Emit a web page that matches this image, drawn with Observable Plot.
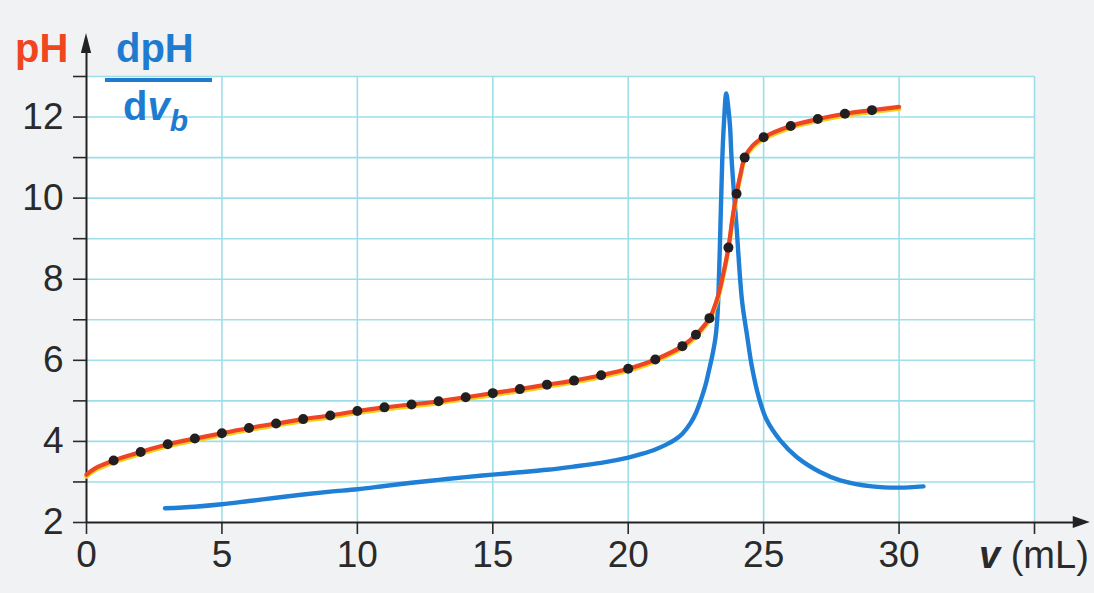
<!DOCTYPE html>
<html>
<head>
<meta charset="utf-8">
<script src="https://cdn.jsdelivr.net/npm/d3@7"></script>
<script src="https://cdn.jsdelivr.net/npm/@observablehq/plot@0.6"></script>
<style>
  html, body { margin: 0; padding: 0; background: #f0f2f4; }
  #wrap { position: relative; width: 1094px; height: 593px; overflow: hidden; font-family: "Liberation Sans", Arial, sans-serif; }
  #wrap svg { position: absolute; left: 0; top: 0; }
  .lbl { position: absolute; white-space: nowrap; line-height: 40px; font-size: 40px; }
</style>
</head>
<body>
<div id="wrap">
  <div class="lbl" style="left:15px; top:28px; color:#f0461f; font-weight:bold;">pH</div>
  <div class="lbl" style="left:116px; top:28px; color:#1f7bd0; font-weight:bold;">dpH</div>
  <div style="position:absolute; left:105px; top:78px; width:107px; height:4px; background:#1f7bd0;"></div>
  <div class="lbl" style="left:123px; top:86px; color:#1f7bd0; font-weight:bold;">d<i>v</i><sub style="font-size:30px; line-height:0; font-style:italic; position:relative; top:2px;">b</sub></div>
  <div class="lbl" style="left:979px; top:535px; color:#2a2a2a; font-size:38px;"><b><i>v</i></b> (mL)</div>
</div>
<script>
// Titration: pH measured points (black dots)
const dotVolume = [1,2,3,4,5,6,7,8,9,10,11,12,13,14,15,16,17,18,19,20,21,22,22.5,23,23.7,24,24.3,25,26,27,28,29];
const dotPH     = [3.53,3.74,3.93,4.07,4.20,4.33,4.44,4.55,4.64,4.75,4.84,4.91,4.99,5.09,5.19,5.29,5.40,5.50,5.63,5.79,6.02,6.35,6.63,7.04,8.78,10.11,11.0,11.5,11.78,11.95,12.08,12.17];

// Smooth pH curve (red)
const curveVolume = [0,0.3,1,2,3,4,5,6,7,8,9,10,11,12,13,14,15,16,17,18,19,20,21,22,22.5,23,23.3,23.5,23.7,23.85,24,24.15,24.3,24.6,25,26,27,28,29,30];
const curvePH     = [3.18,3.33,3.53,3.74,3.93,4.07,4.20,4.33,4.44,4.55,4.64,4.75,4.84,4.91,4.99,5.09,5.19,5.29,5.40,5.50,5.63,5.79,6.02,6.35,6.63,7.04,7.55,8.1,8.78,9.5,10.11,10.6,11.0,11.3,11.5,11.78,11.95,12.08,12.17,12.25];

// Derivative dpH/dv_b (blue)
const derivVolume = [2.9,4,5,6,7,8,9,10,11,12,13,14,15,16,17,18,19,20,20.5,21,21.4,21.7,22.0,22.3,22.5,22.67,22.85,22.97,23.1,23.22,23.28,23.33,23.4,23.47,23.53,23.62,23.7,23.76,23.82,24.0,24.2,24.38,24.57,24.82,25.12,25.62,26.23,27.1,27.83,29,30,30.9];
const derivValue  = [2.35,2.39,2.45,2.53,2.61,2.69,2.76,2.82,2.90,2.98,3.05,3.12,3.18,3.24,3.30,3.38,3.47,3.60,3.69,3.80,3.92,4.03,4.19,4.45,4.70,5.00,5.38,5.72,6.10,6.55,6.95,7.6,9.2,10.9,11.8,12.58,12.2,11.76,10.94,9.29,7.48,6.65,5.83,5.09,4.52,4.02,3.61,3.24,3.04,2.89,2.86,2.89];

// Axes ticks and grid
const xTicks = [0,5,10,15,20,25,30,35];
const xTickLabels = ["0","5","10","15","20","25","30",""];
const yTicks = [2,3,4,5,6,7,8,9,10,11,12,13];
const yTickLabels = ["2","","4","","6","","8","","10","","12",""];
const xGrid = [5,10,15,20,25,30,35];
const yGrid = [3,4,5,6,7,8,9,10,11,12,13];

const dots = dotVolume.map((v, i) => ({v, ph: dotPH[i]}));
const curve = curveVolume.map((v, i) => ({v, ph: curvePH[i]}));
const deriv = derivVolume.map((v, i) => ({v, d: derivValue[i]}));

const gridColor = "#9ddfe8";
const axisColor = "#222";

const chart = Plot.plot({
  width: 1094,
  height: 593,
  marginLeft: 86,
  marginRight: 60,
  marginTop: 76,
  marginBottom: 71,
  style: {background: "transparent", fontFamily: "Liberation Sans, Arial, sans-serif"},
  x: {domain: [0, 35]},
  y: {domain: [2, 13]},
  marks: [
    Plot.frame({fill: "white", stroke: "none"}),
    Plot.ruleY(yGrid, {x1: 0, x2: 35, stroke: gridColor, strokeWidth: 1.6}),
    Plot.ruleX(xGrid, {y1: 2, y2: 13, stroke: gridColor, strokeWidth: 1.6}),
    Plot.axisX({ticks: xTicks, tickFormat: d => xTickLabels[xTicks.indexOf(d)], tickSize: 12, tickPadding: 6, fontSize: 37, color: "#2a2a2a", strokeWidth: 1.6, label: null}),
    Plot.axisY({ticks: yTicks, tickFormat: d => yTickLabels[yTicks.indexOf(d)], tickSize: 13, tickPadding: 10, fontSize: 37, color: "#2a2a2a", strokeWidth: 1.6, label: null}),
    Plot.ruleX([0], {y1: 2, y2: 13.7, stroke: axisColor, strokeWidth: 2}),
    Plot.ruleY([2], {x1: 0, x2: 36.6, stroke: axisColor, strokeWidth: 2}),
    Plot.areaX([{y: 13.57, x1: -0.19, x2: 0.19}, {y: 14.06, x1: 0, x2: 0}], {y: "y", x1: "x1", x2: "x2", fill: axisColor}),
    Plot.areaY([{x: 36.43, y1: 1.85, y2: 2.15}, {x: 37.06, y1: 2, y2: 2}], {x: "x", y1: "y1", y2: "y2", fill: axisColor}),
    Plot.line(deriv, {x: "v", y: "d", stroke: "#1f7fd6", strokeWidth: 4.4, curve: "catmull-rom"}),
    Plot.line(curve, {x: "v", y: "ph", stroke: "#f6d11c", strokeWidth: 4.5, dy: 1.8, curve: "catmull-rom"}),
    Plot.line(curve, {x: "v", y: "ph", stroke: "#ee4624", strokeWidth: 4.2, curve: "catmull-rom"}),
    Plot.dot(dots, {x: "v", y: "ph", r: 5, fill: "#231f20"})
  ]
});
document.getElementById("wrap").prepend(chart);
</script>
</body>
</html>
